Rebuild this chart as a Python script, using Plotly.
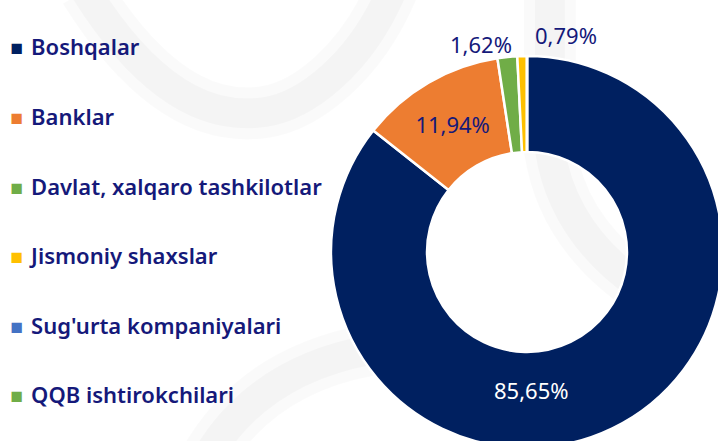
import plotly.graph_objects as go

labels = ["Boshqalar", "Banklar", "Davlat, xalqaro tashkilotlar", "Jismoniy shaxslar",
          "Sug'urta kompaniyalari", "QQB ishtirokchilari"]
values = [85.65, 11.94, 1.62, 0.79, 0.0, 0.0]
colors = ["#002060", "#ED7D31", "#70AD47", "#FFC000", "#4472C4", "#70AD47"]

NAVY_TEXT = "#15197A"
# canvas slightly larger than the window; the window crops the ring like the reference
W, H = 730, 450
CX, CY, R = 527, 252, 196

def px(x, y):
    return x / W, 1 - y / H

fig = go.Figure()

fig.add_trace(go.Pie(
    labels=labels, values=values, sort=False, direction="clockwise", rotation=0,
    hole=0.51,
    marker=dict(colors=colors, line=dict(color="white", width=2.5)),
    texttemplate="%{percent:.2%}",
    textposition=["none", "inside", "none", "none", "none", "none"],
    insidetextorientation="horizontal",
    textfont=dict(family="Noto Sans", size=22, color=NAVY_TEXT),
    domain=dict(x=[(CX - R) / W, (CX + R) / W], y=[(H - CY - R) / H, (H - CY + R) / H]),
    showlegend=False,
    hoverinfo="label+percent",
))

legend_font = dict(family="Noto Sans", size=22, color=NAVY_TEXT, weight=600)
# legend entries: a coloured square glyph followed by the category name
for i, (lab, col) in enumerate(zip(labels, colors)):
    fig.add_trace(go.Scatter(
        x=[None], y=[None], mode="markers",
        name='<span style="color:%s;font-size:21px">\u25A0</span> \u200a%s' % (col, lab),
        legendgroup="t%d" % i,
        marker=dict(symbol="square", size=1, color="rgba(0,0,0,0)"),
        showlegend=True,
    ))

def fmt(v):
    return ("%.2f%%" % v).replace(".", ",")

label_spots = {0: (531, 390, "white"), 2: (481, 44, NAVY_TEXT), 3: (566, 35, NAVY_TEXT)}
for idx, (lx, ly, c) in label_spots.items():
    ax, ay = px(lx, ly)
    fig.add_annotation(text=fmt(values[idx]), x=ax, y=ay, xref="paper", yref="paper",
                       xanchor="center", yanchor="middle", showarrow=False,
                       font=dict(family="Noto Sans", size=22, color=c))

# faint background watermark swooshes
def P(x, y):
    a, b = px(x, y)
    return "%.4f,%.4f" % (a, b)

swooshes = [
    "M %s C %s %s %s S %s %s" % (P(85, -10), P(160, 110), P(225, 118), P(265, 112),
                                 P(360, 65), P(392, -10)),
    "M %s Q %s %s" % (P(200, 470), P(250, 372), P(370, 350)),
    "M %s L %s Q %s %s" % (P(550, -10), P(550, 150), P(563, 235), P(645, 290)),
]
for s in swooshes:
    fig.add_shape(type="path", path=s, xref="paper", yref="paper", layer="below",
                  line=dict(color="rgba(0,0,0,0.02)", width=52))
    fig.add_shape(type="path", path=s, xref="paper", yref="paper", layer="below",
                  line=dict(color="rgba(0,0,0,0.022)", width=30))

ly_top = 1 - 26 / H
fig.update_layout(
    width=W, height=H,
    margin=dict(l=0, r=0, t=0, b=0, autoexpand=False),
    paper_bgcolor="white", plot_bgcolor="rgba(0,0,0,0)",
    separators=", ",
    xaxis=dict(visible=False), yaxis=dict(visible=False),
    legend=dict(x=-29.5 / W, y=ly_top, xanchor="left", yanchor="top",
                font=legend_font, tracegroupgap=38, itemsizing="constant",
                bgcolor="rgba(0,0,0,0)"),
)

fig.write_html("out.html", config={"displayModeBar": False},
               post_script="document.body.style.margin='0';document.documentElement.style.overflow='hidden';document.body.style.overflow='hidden';")
